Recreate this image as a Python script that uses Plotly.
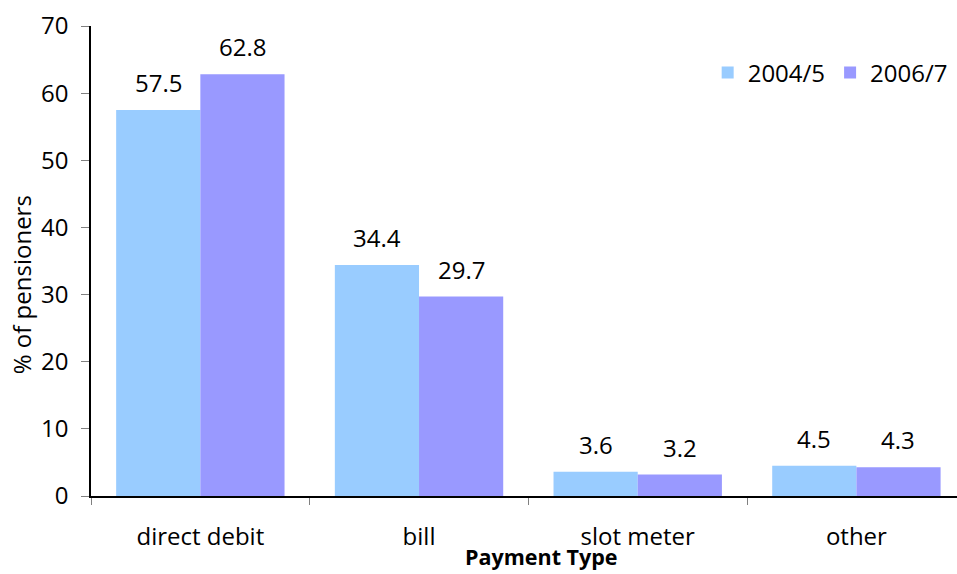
import plotly.graph_objects as go

categories = ["direct debit", "bill", "slot meter", "other"]
series_names = ["2004/5", "2006/7"]
values_2004_5 = [57.5, 34.4, 3.6, 4.5]
values_2006_7 = [62.8, 29.7, 3.2, 4.3]
y_ticks = [0, 10, 20, 30, 40, 50, 60, 70]

colors = ["#99CCFF", "#9999FF"]
font_family = "Open Sans, Liberation Sans, sans-serif"
fs = 24

fig = go.Figure()
for name, vals, col in zip(series_names, [values_2004_5, values_2006_7], colors):
    fig.add_trace(go.Bar(x=categories, y=vals, name=name, marker=dict(color=col, line=dict(width=0))))

# value labels above each bar
bar_px = 42
for vals, shift in zip([values_2004_5, values_2006_7], [-bar_px, bar_px]):
    for cat, v in zip(categories, vals):
        fig.add_annotation(x=cat, y=v, text=f"{v:.1f}", showarrow=False,
                           xshift=shift, yshift=9, yanchor="bottom",
                           font=dict(size=fs, color="black", family=font_family))

fig.add_annotation(text="Payment Type", xref="paper", yref="paper", x=0.52, y=-0.163,
                   xanchor="center", yanchor="bottom", showarrow=False,
                   font=dict(size=21.5, color="black", family=font_family, weight="bold"))
fig.add_annotation(text="% of pensioners", xref="paper", yref="paper", x=-0.08, y=0.45,
                   xanchor="center", yanchor="middle", textangle=-90, showarrow=False,
                   font=dict(size=fs, color="black", family=font_family))

fig.update_layout(
    width=957, height=574,
    margin=dict(l=91, r=0, t=26, b=78),
    paper_bgcolor="white", plot_bgcolor="white",
    barmode="group", bargap=0.23, bargroupgap=0,
    font=dict(family=font_family, size=fs, color="black"),
    showlegend=True,
    legend=dict(orientation="h", x=0.995, xanchor="right", y=0.9, yanchor="middle",
                font=dict(size=fs), itemwidth=30, tracegroupgap=0,
                bgcolor="rgba(0,0,0,0)"),
    xaxis=dict(range=[-0.5, 3.46], showline=True, linecolor="black", linewidth=1.5,
               ticks="outside", tickson="boundaries", ticklen=7, tickcolor="#808080",
               ticklabelstandoff=18, showgrid=False, zeroline=False),
    yaxis=dict(range=[0, 70], tickvals=y_ticks, showline=True, linecolor="black",
               linewidth=1.5, ticks="outside", ticklen=8, tickcolor="#808080",
               ticklabelstandoff=8, showgrid=False, zeroline=False),
)

fig.write_html("out.html")
